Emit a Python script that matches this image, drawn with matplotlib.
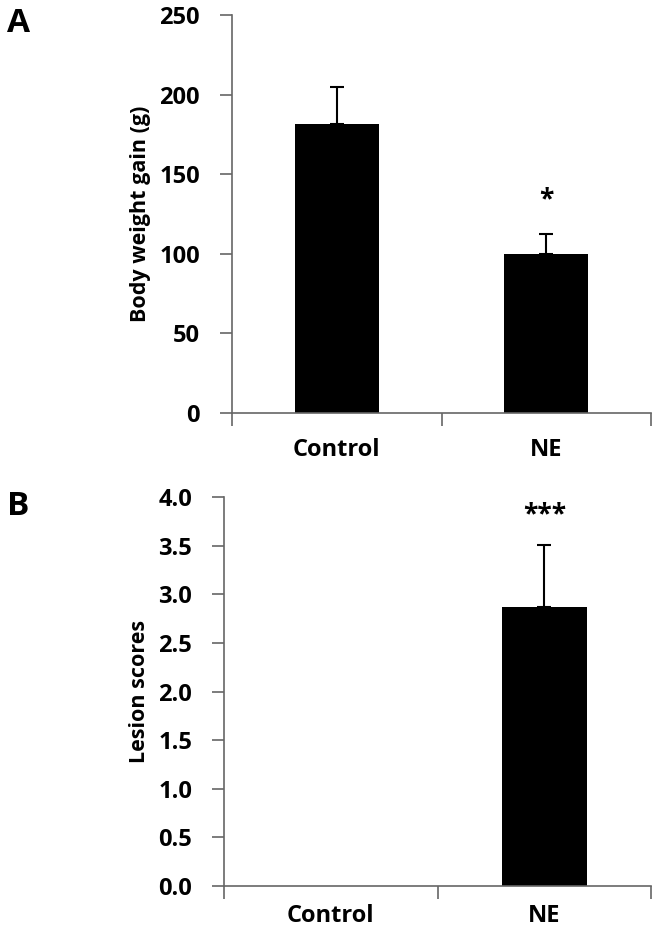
import matplotlib.pyplot as plt

plt.rcParams['font.family'] = ['Open Sans', 'DejaVu Sans']
plt.rcParams['font.weight'] = 'bold'

groups = ["Control", "NE"]
weight_gain = [181.5, 100.0]
weight_err = [23.5, 12.5]
lesion = [0.0, 2.87]
lesion_err = [0.0, 0.64]
weight_sig = ["", "*"]
lesion_sig = ["", "***"]

axis_col = '#666666'

fig = plt.figure(figsize=(6.57, 9.36), dpi=100)
axA = fig.add_axes([0.3531, 0.5588, 0.6378, 0.4252])
axB = fig.add_axes([0.3410, 0.0534, 0.6499, 0.4156])


def style(ax, ymax, step, fmt, xpad):
    x = list(range(len(groups)))
    n = int(round(ymax / step)) + 1
    ax.set_xlim(-0.5, len(groups) - 0.5)
    ax.set_ylim(0, ymax)
    ax.set_yticks([i * step for i in range(n)])
    ax.set_yticklabels([fmt.format(i * step) for i in range(n)])
    ax.set_xticks(x)
    ax.set_xticklabels(groups, fontsize=17, fontweight='bold')
    ax.set_xticks([i - 0.5 for i in range(len(groups) + 1)], minor=True)
    ax.tick_params(axis='x', which='major', length=0, pad=xpad)
    ax.tick_params(axis='x', which='minor', length=9, width=1.2, color=axis_col, direction='out')
    ax.tick_params(axis='y', length=9, width=1.2, color=axis_col, pad=14, labelsize=17)
    for lab in ax.get_yticklabels():
        lab.set_fontweight('bold')
    for s in ['top', 'right']:
        ax.spines[s].set_visible(False)
    for s in ['left', 'bottom']:
        ax.spines[s].set_color(axis_col)
        ax.spines[s].set_linewidth(1.2)


# panel A
x = list(range(len(groups)))
axA.bar(x, weight_gain, width=0.4, color='black', zorder=2)
axA.errorbar(x, weight_gain, yerr=[[0] * len(groups), weight_err], fmt='none',
             ecolor='black', elinewidth=1.5, capsize=5, capthick=1.5, zorder=3)
style(axA, 250, 50, "{:.0f}", 18)
axA.set_ylabel("Body weight gain (g)", fontsize=15.5, fontweight='bold', labelpad=6)
for i in x:
    if weight_sig[i]:
        axA.text(i, weight_gain[i] + weight_err[i] + 13, weight_sig[i], ha='center',
                 va='bottom', fontsize=19, fontweight='bold')
fig.text(0.010, 0.992, "A", fontsize=24, fontweight='bold', va='top')

# panel B
axB.bar(x, lesion, width=0.4, color='black', zorder=2)
axB.errorbar([1], [lesion[1]], yerr=[[0], [lesion_err[1]]], fmt='none',
             ecolor='black', elinewidth=1.5, capsize=5, capthick=1.5, zorder=3)
style(axB, 4.0, 0.5, "{:.1f}", 13)
axB.set_ylabel("Lesion scores", fontsize=15.5, fontweight='bold', labelpad=6)
for i in x:
    if lesion_sig[i]:
        axB.text(i, lesion[i] + lesion_err[i] + 0.17, lesion_sig[i], ha='center',
                 va='bottom', fontsize=19, fontweight='bold')
fig.text(0.010, 0.477, "B", fontsize=24, fontweight='bold', va='top')

fig.savefig("out.png", dpi=100)
